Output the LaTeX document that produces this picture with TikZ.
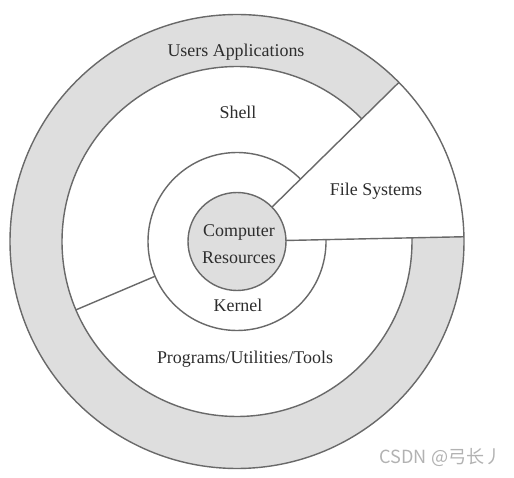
\documentclass[tikz,border=0pt]{standalone}
\usepackage{fontspec}
\setmainfont{Liberation Serif}
\newfontfamily\cjk{Noto Sans CJK SC}
\definecolor{ringgray}{RGB}{222,222,222}
\definecolor{linegray}{RGB}{105,105,105}
\definecolor{textgray}{RGB}{45,45,45}
\definecolor{markgray}{RGB}{178,178,178}
\begin{document}
\begin{tikzpicture}[line width=0.8pt,
  edge/.style={draw=linegray},
  lbl/.style={text=textgray, font=\fontsize{10.2}{15.3}\selectfont, align=center}]
\useasboundingbox (-4.74,-4.73) rectangle (5.54,4.83);

% rings
\fill[ringgray] (0,0) circle (4.54);
\fill[white] (0,0) circle (3.5);
\fill[white] (1.2:0.98) -- (1.2:4.54) arc (1.2:44.5:4.54) -- (44.5:0.98) -- cycle;
\fill[ringgray] (0,0) circle (0.98);

\coordinate (fsLow) at (1.2:0.98);
\coordinate (fsLowEnd) at (1.2:4.54);
\coordinate (fsUp) at (44.5:0.98);
\coordinate (fsUpEnd) at (44.5:4.54);
\coordinate (split) at (203:1.78);
\coordinate (splitEnd) at (203:3.5);

\draw[edge] (0,0) circle (4.54);
\draw[edge] (44.5:3.5) arc (44.5:361.2:3.5);
\draw[edge] (44.5:1.78) arc (44.5:361.2:1.78);
\draw[edge] (0,0) circle (0.98);
\draw[edge] (fsLow) -- (fsLowEnd);
\draw[edge] (fsUp) -- (fsUpEnd);
\draw[edge] (split) -- (splitEnd);

% labels
\node[lbl] (users) at (-0.02,3.79) {Users Applications};
\node[lbl] (shell) at (0.02,2.59) {Shell};
\node[lbl] (files) at (2.78,1.01) {File Systems};
\node[lbl] (res) at (0.04,-0.06) {Computer\\Resources};
\node[lbl] (kernel) at (0.02,-1.27) {Kernel};
\node[lbl] (progs) at (0.16,-2.35) {Programs/Utilities/Tools};
\node[font=\cjk\fontsize{10.3}{12}\selectfont, text=markgray] (mark) at (4.08,-4.33) {CSDN @弓长丿};
\end{tikzpicture}
\end{document}
